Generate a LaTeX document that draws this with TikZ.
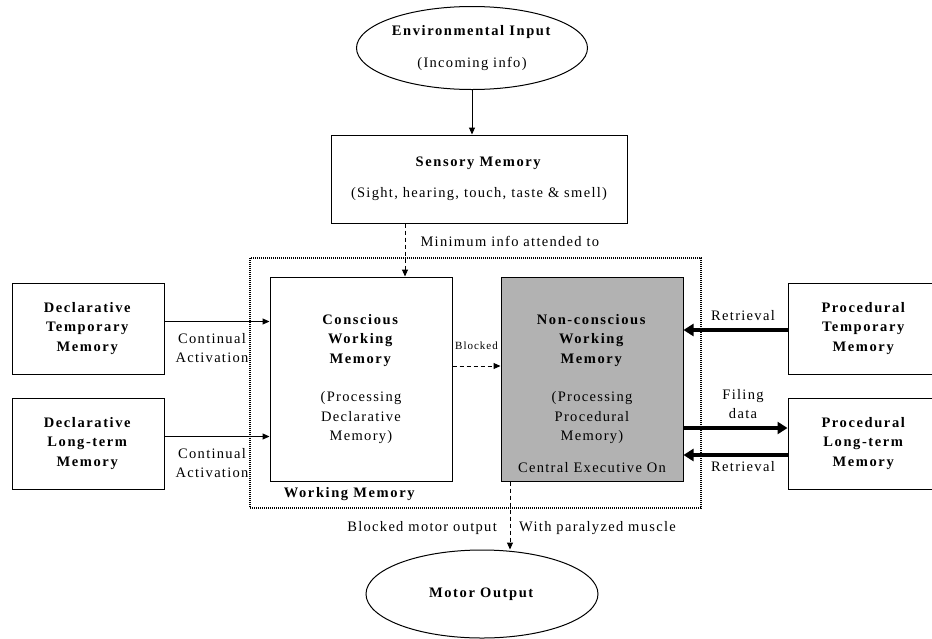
\documentclass[tikz,border=0pt]{standalone}
\usepackage{fontspec}
\setmainfont{Liberation Serif}[LetterSpace=9,BoldFeatures={LetterSpace=11}]
\usetikzlibrary{arrows.meta,shapes.geometric}

\begin{document}
\begin{tikzpicture}[x = 1pt, y = -1pt,
		txt/.style = {align = center, inner sep = 0pt, font = \fontsize{14.5}{19.5}\selectfont},
		box/.style = {txt, draw, line width = 1pt},
		oval/.style = {box, ellipse},
		feed/.style = {line width = 1pt, -{Triangle[length = 7pt, width = 6pt]}},
		dashfeed/.style = {feed, dash pattern = on 4pt off 3pt},
		bigfeed/.style = {line width = 4pt, -{Triangle[length = 10pt, width = 12pt]}}]
		\useasboundingbox (0, 0) rectangle (932, 638);
		% input and sensory stage
		\node[oval, minimum width = 231, minimum height = 83] (env) at (472, 48)
			{\textbf{Environmental Input}\\[13pt](Incoming info)};
		\node[box, minimum width = 296, minimum height = 88] (sense) at (479, 179)
			{\textbf{Sensory Memory}\\[11pt](Sight, hearing, touch, taste \& smell)};
		% working memory
		\draw[line width = 1.2pt, dash pattern = on 1pt off 1pt] (250, 258) rectangle (701, 508);
		\node[box, minimum width = 182, minimum height = 204] (cwm) at (361, 379)
			{\textbf{Conscious}\\\textbf{Working}\\\textbf{Memory}\\[19pt](Processing\\Declarative\\Memory)};
		\node[box, fill = black!30, minimum width = 182, minimum height = 204] (ncwm) at (592, 379)
			{\textbf{Non-conscious}\\\textbf{Working}\\\textbf{Memory}\\[19pt](Processing\\Procedural\\Memory)};
		\node[txt] (ceo) at ([yshift = 14pt]ncwm.south) {Central Executive On};
		\node[txt] (wm) at (350, 494) {\textbf{Working Memory}};
		% stores
		\node[box, minimum width = 152, minimum height = 91] (dtm) at (88, 328.5)
			{\textbf{Declarative}\\\textbf{Temporary}\\\textbf{Memory}};
		\node[box, minimum width = 152, minimum height = 91] (dlm) at (88, 443.5)
			{\textbf{Declarative}\\\textbf{Long-term}\\\textbf{Memory}};
		\node[box, minimum width = 152, minimum height = 91] (ptm) at (864, 328.5)
			{\textbf{Procedural}\\\textbf{Temporary}\\\textbf{Memory}};
		\node[box, minimum width = 152, minimum height = 91] (plm) at (864, 443.5)
			{\textbf{Procedural}\\\textbf{Long-term}\\\textbf{Memory}};
		\node[oval, minimum width = 232, minimum height = 88] (motor) at (482, 594)
			{\textbf{Motor Output}};
		% connectors
		\coordinate (att) at (405, 0);
		\coordinate (out) at (510, 0);
		\path ([yshift = 7pt]dtm.east) coordinate (a1) ([yshift = 7pt]dlm.east) coordinate (a2)
			([yshift = 13pt]cwm.east) coordinate (a3) ([yshift = -1.5pt]ptm.west) coordinate (a4)
			([yshift = 15.5pt]plm.west) coordinate (a5) ([yshift = -11.5pt]plm.west) coordinate (a6);
		\draw[feed] (env) -- (env.south |- sense.north);
		\draw[dashfeed] (sense.south -| att) -- (cwm.north -| att)
			node[txt, pos = 0.33, right = 15pt] {Minimum info attended to};
		\draw[feed] (a1) -- (a1 -| cwm.west);
		\draw[feed] (a2) -- (a2 -| cwm.west);
		\node[txt] at (212, 348) {Continual\\Activation};
		\node[txt] at (212, 463) {Continual\\Activation};
		\draw[dashfeed] (a3) -- (a3 -| ncwm.west)
			node[midway, above = 16pt, txt, font = \fontsize{11}{13}\selectfont] {Blocked};
		\draw[bigfeed] (a4) -- (a4 -| ncwm.east);
		\draw[bigfeed] (a5 -| ncwm.east) -- (a5);
		\draw[bigfeed] (a6) -- (a6 -| ncwm.east);
		\node[txt] at (743, 316) {Retrieval};
		\node[txt] at (743, 404) {Filing\\data};
		\node[txt] at (743, 467) {Retrieval};
		\draw[dashfeed] (ncwm.south -| out) -- (motor.north -| out);
		\node[txt, anchor = east] at (497, 528) {Blocked motor output};
		\node[txt, anchor = west] at (519, 528) {With paralyzed muscle};
	\end{tikzpicture}
\end{document}
